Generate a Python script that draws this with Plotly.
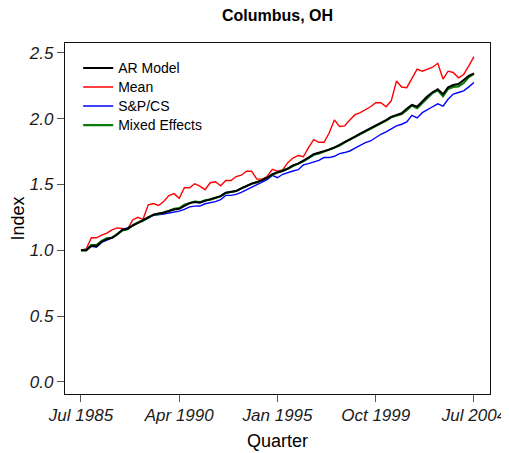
import pandas as pd
import plotly.graph_objects as go

quarters = pd.date_range(start="1985-07-01", periods=77, freq="QS-JAN")

ar_model = [1.00, 1.00, 1.035, 1.03, 1.065, 1.085, 1.095, 1.12, 1.155, 1.163,
            1.188, 1.209, 1.226, 1.247, 1.27, 1.28, 1.285, 1.297, 1.31, 1.315,
            1.336, 1.358, 1.366, 1.362, 1.375, 1.386, 1.399, 1.411, 1.437, 1.442,
            1.45, 1.47, 1.488, 1.506, 1.518, 1.531, 1.551, 1.577, 1.592, 1.602,
            1.62, 1.645, 1.658, 1.678, 1.704, 1.729, 1.739, 1.752, 1.764, 1.78,
            1.80, 1.823, 1.843, 1.863, 1.886, 1.906, 1.927, 1.945, 1.965, 1.988,
            2.013, 2.028, 2.04, 2.075, 2.105, 2.09, 2.13, 2.17, 2.20, 2.222,
            2.185, 2.237, 2.255, 2.262, 2.293, 2.325, 2.343]

mean_idx = [1.00, 1.01, 1.095, 1.095, 1.115, 1.13, 1.155, 1.17, 1.165, 1.16,
            1.23, 1.25, 1.235, 1.345, 1.355, 1.34, 1.37, 1.415, 1.43, 1.395,
            1.475, 1.475, 1.505, 1.487, 1.46, 1.513, 1.52, 1.49, 1.53, 1.53,
            1.56, 1.57, 1.60, 1.60, 1.54, 1.54, 1.56, 1.615, 1.60, 1.61,
            1.665, 1.70, 1.72, 1.71, 1.78, 1.84, 1.82, 1.82, 1.89, 1.99,
            1.94, 1.945, 1.99, 2.03, 2.045, 2.065, 2.09, 2.12, 2.12, 2.09,
            2.135, 2.285, 2.24, 2.235, 2.31, 2.375, 2.36, 2.375, 2.39, 2.42,
            2.30, 2.36, 2.35, 2.31, 2.335, 2.40, 2.47]

sp_cs = [1.00, 1.00, 1.03, 1.025, 1.06, 1.08, 1.094, 1.12, 1.158, 1.17,
         1.188, 1.205, 1.222, 1.245, 1.265, 1.268, 1.275, 1.283, 1.29, 1.297,
         1.31, 1.33, 1.335, 1.336, 1.353, 1.361, 1.369, 1.384, 1.417, 1.417,
         1.424, 1.44, 1.46, 1.475, 1.496, 1.516, 1.536, 1.569, 1.551, 1.577,
         1.592, 1.602, 1.612, 1.648, 1.658, 1.668, 1.683, 1.704, 1.704, 1.714,
         1.734, 1.742, 1.754, 1.775, 1.797, 1.818, 1.83, 1.856, 1.881, 1.899,
         1.92, 1.945, 1.957, 1.975, 2.025, 2.005, 2.045, 2.07, 2.09, 2.112,
         2.095, 2.147, 2.186, 2.198, 2.211, 2.241, 2.274]

mixed_effects = [1.00, 1.00, 1.04, 1.04, 1.07, 1.09, 1.095, 1.12, 1.15, 1.16,
                 1.19, 1.21, 1.225, 1.25, 1.27, 1.275, 1.285, 1.30, 1.315, 1.32,
                 1.345, 1.36, 1.37, 1.365, 1.38, 1.385, 1.40, 1.41, 1.435, 1.44,
                 1.45, 1.47, 1.49, 1.505, 1.515, 1.53, 1.55, 1.575, 1.59, 1.60,
                 1.62, 1.64, 1.655, 1.675, 1.70, 1.725, 1.735, 1.75, 1.76, 1.775,
                 1.795, 1.82, 1.84, 1.86, 1.88, 1.90, 1.92, 1.94, 1.96, 1.985,
                 2.01, 2.02, 2.035, 2.065, 2.10, 2.08, 2.12, 2.16, 2.195, 2.215,
                 2.17, 2.225, 2.24, 2.245, 2.27, 2.315, 2.34]

x_tick_dates = ["1985-07-01", "1990-04-01", "1995-01-01", "1999-10-01", "2004-07-01"]
x_tick_labels = ["Jul 1985", "Apr 1990", "Jan 1995", "Oct 1999", "Jul 2004"]
y_tick_vals = [0.0, 0.5, 1.0, 1.5, 2.0, 2.5]
y_tick_labels = ["0.0", "0.5", "1.0", "1.5", "2.0", "2.5"]

FONT = "Liberation Sans, Arial, sans-serif"


def legend_label(text):
    return '<span style="font-size:14px">' + text + "</span>"


fig = go.Figure()
fig.add_trace(go.Scatter(x=quarters, y=mean_idx, mode="lines", name=legend_label("Mean"),
                         line=dict(color="#FF0000", width=1.4), legendrank=2))
fig.add_trace(go.Scatter(x=quarters, y=sp_cs, mode="lines", name=legend_label("S&amp;P/CS"),
                         line=dict(color="#0000FF", width=1.4), legendrank=3))
fig.add_trace(go.Scatter(x=quarters, y=mixed_effects, mode="lines", name=legend_label("Mixed Effects"),
                         line=dict(color="#0A7A0A", width=2.2), legendrank=4))
fig.add_trace(go.Scatter(x=quarters, y=ar_model, mode="lines", name=legend_label("AR Model"),
                         line=dict(color="#000000", width=2.0), legendrank=1))

axis_common = dict(
    showgrid=False, zeroline=False, showline=True, mirror=True,
    linecolor="#111111", linewidth=1.3,
    ticks="outside", ticklen=7, tickwidth=1, tickcolor="#555555",
    tickfont=dict(family=FONT, size=17, color="#1a1a1a", style="italic"),
)

# the page body adds an 8px offset; figure is sized so the plot lands where the reference has it
fig.update_layout(
    width=501, height=445,
    paper_bgcolor="white", plot_bgcolor="white",
    margin=dict(l=57, r=19, t=35, b=59, autoexpand=False),
    title=dict(text="<b>Columbus, OH</b>", x=0.5, xref="paper", y=1 - 7 / 445,
               yanchor="middle", font=dict(family=FONT, size=16, color="black")),
    font=dict(family=FONT, color="black"),
    showlegend=True,
    legend=dict(x=0.031, y=0.97, xanchor="left", yanchor="top",
                bgcolor="rgba(0,0,0,0)", borderwidth=0,
                font=dict(family=FONT, size=12, color="black"),
                tracegroupgap=0),
    xaxis=dict(type="date", range=["1984-09-22", "2005-04-10"],
               tickmode="array", tickvals=x_tick_dates, ticktext=x_tick_labels,
               ticklabelstandoff=-2,
               title=dict(text="Quarter", font=dict(family=FONT, size=18, color="black"), standoff=10),
               **axis_common),
    yaxis=dict(range=[-0.0914, 2.574],
               tickmode="array", tickvals=y_tick_vals, ticktext=y_tick_labels,
               title=dict(text="Index", font=dict(family=FONT, size=18, color="black"), standoff=1),
               **axis_common),
)

fig.write_html("out.html")
